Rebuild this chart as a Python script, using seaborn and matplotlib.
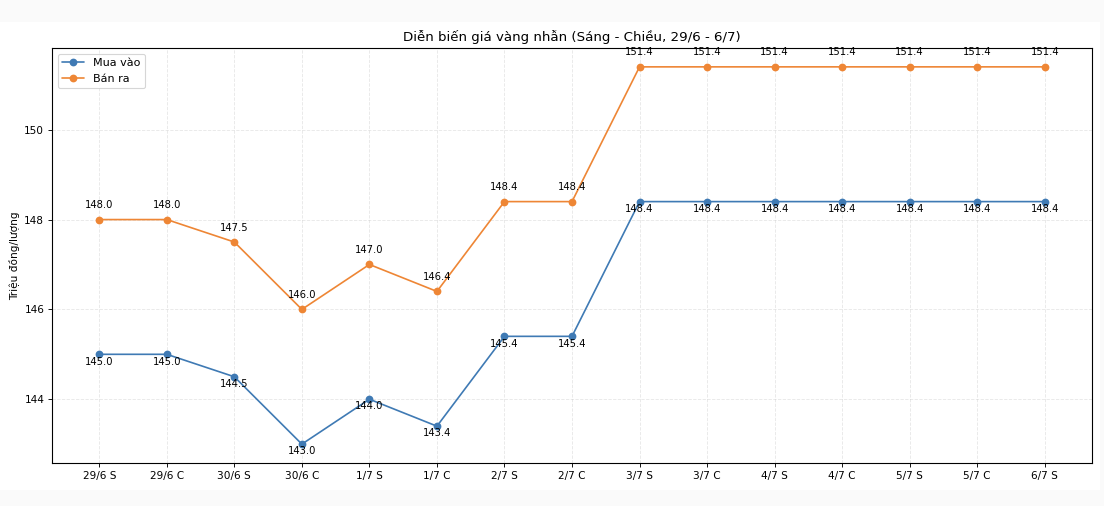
import numpy as np
import pandas as pd
import matplotlib
matplotlib.use("Agg")
import matplotlib.pyplot as plt
import matplotlib.patches as mpatches
import seaborn as sns

# ── data ────────────────────────────────────────────────────────────
sessions = ["29/6 S", "29/6 C", "30/6 S", "30/6 C", "1/7 S", "1/7 C", "2/7 S",
            "2/7 C", "3/7 S", "3/7 C", "4/7 S", "4/7 C", "5/7 S", "5/7 C", "6/7 S"]
mua_vao = [145.0, 145.0, 144.5, 143.0, 144.0, 143.4, 145.4, 145.4,
           148.4, 148.4, 148.4, 148.4, 148.4, 148.4, 148.4]
ban_ra = [148.0, 148.0, 147.5, 146.0, 147.0, 146.4, 148.4, 148.4,
          151.4, 151.4, 151.4, 151.4, 151.4, 151.4, 151.4]

BLUE = "#3f7ab4"
ORANGE = "#ee8635"
DPI = 80

sns.set_style("ticks")
plt.rcParams["font.family"] = ["DejaVu Sans"]
plt.rcParams.update({"text.color": "black", "axes.labelcolor": "black",
                     "xtick.color": "black", "ytick.color": "black"})

fig, ax = plt.subplots(figsize=(1104 / DPI, 506 / DPI), dpi=DPI)
fig.subplots_adjust(left=52 / 1104, right=1092 / 1104, top=1 - 48 / 506, bottom=1 - 463 / 506)

df = pd.DataFrame({"x": np.arange(len(sessions)), "mua": mua_vao, "ban": ban_ra})

sns.lineplot(data=df, x="x", y="mua", ax=ax, color=BLUE, marker="o", markersize=7,
             markeredgewidth=0, linewidth=1.5, label="Mua vào")
sns.lineplot(data=df, x="x", y="ban", ax=ax, color=ORANGE, marker="o", markersize=7,
             markeredgewidth=0, linewidth=1.5, label="Bán ra")

for i, v in enumerate(mua_vao):
    ax.annotate(f"{v:.1f}", (i, v), xytext=(0, -6.5), textcoords="offset points",
                ha="center", va="center", fontsize=9)
for i, v in enumerate(ban_ra):
    ax.annotate(f"{v:.1f}", (i, v), xytext=(0, 13), textcoords="offset points",
                ha="center", va="center", fontsize=9)

ax.set_xticks(df["x"])
ax.set_xticklabels(sessions)
ax.margins(x=0.05, y=0.05)
ax.set_xlabel("")
ax.set_ylabel("Triệu đồng/lượng", fontsize=9.5)
ax.set_title("Diễn biến giá vàng nhẫn (Sáng - Chiều, 29/6 - 6/7)", fontsize=12)
ax.grid(True, linestyle="--", alpha=0.45)
ax.tick_params(labelsize=9.5)
for s in ax.spines.values():
    s.set_visible(True)
    s.set_linewidth(1.0)
    s.set_color("black")
ax.legend(loc="upper left", fontsize=10)

# screenshot frame
for (x0, y0, w, h) in [(0, 1 - 22 / 506, 1, 22 / 506), (0, 0, 1, 16 / 506),
                       (1 - 4 / 1104, 0, 4 / 1104, 1)]:
    fig.patches.append(mpatches.Rectangle((x0, y0), w, h, transform=fig.transFigure,
                                          facecolor="#fafafa", edgecolor="none", zorder=-1))

fig.savefig("out.png", dpi=DPI)
